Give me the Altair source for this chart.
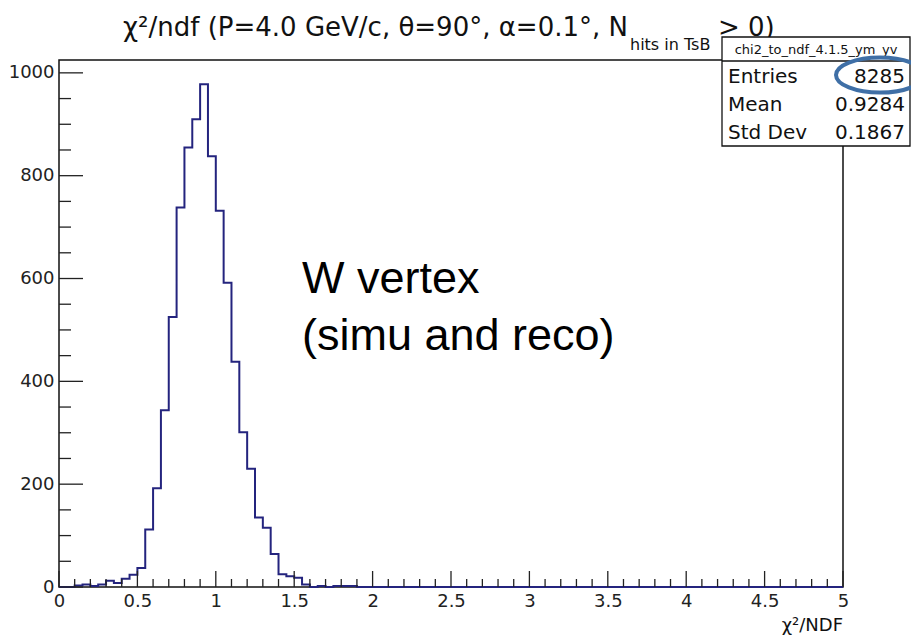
import altair as alt
import pandas as pd

# ---------------- data ----------------
bin_width = 0.05
n_bins = 100
counts_head = [0, 0, 3, 5, 2, 5, 12, 8, 16, 24, 37, 112, 192, 344, 525, 738, 855,
               910, 978, 838, 732, 592, 438, 301, 230, 135, 115, 64, 25, 21, 18,
               5, 0, 2, 0, 2, 2, 2]
counts = counts_head + [0] * (n_bins - len(counts_head))

x_major = [0, 0.5, 1, 1.5, 2, 2.5, 3, 3.5, 4, 4.5, 5]
y_major = [0, 200, 400, 600, 800, 1000]
x_minor = [round(i * 0.1, 2) for i in range(51) if i % 5 != 0]
y_minor = [i * 50 for i in range(21) if i % 4 != 0]

title_main = "χ²/ndf (P=4.0 GeV/c, θ=90°, α=0.1°, N"
title_sub = "hits in TsB"
title_end = "> 0)"
x_title = "χ²/NDF"
stats_name = "chi2_to_ndf_4.1.5_ym_yv"
stats_labels = ["Entries", "Mean", "Std Dev"]
stats_values = ["8285", "0.9284", "0.1867"]
note_lines = ["W vertex", "(simu and reco)"]

# ---------------- geometry ----------------
W, H = 784, 527
X_MAX, Y_MAX = 5, 1025
ROOT_FONT = "DejaVu Sans"
HIST_COLOR = "#24247e"

edges = [i * bin_width for i in range(n_bins)] + [n_bins * bin_width]
hist = pd.DataFrame({"x": edges, "n": counts + [counts[-1]]})

xs = alt.Scale(domain=[0, X_MAX], nice=False, zero=False)
ys = alt.Scale(domain=[0, Y_MAX], nice=False)

x_axis = alt.Axis(values=x_major, format="~g", ticks=False, domain=False,
                  grid=False, title=None, labelFont=ROOT_FONT,
                  labelFontSize=18, labelColor="#222", labelPadding=5,
                  labelFlush=False, labelOverlap=False)
y_axis = alt.Axis(values=y_major, format="d", ticks=False, domain=False,
                  grid=False, title=None, labelFont=ROOT_FONT, labelFontSize=18,
                  labelColor="#222", labelPadding=5, labelFlush=False,
                  labelOverlap=False)

one = pd.DataFrame({"a": [0]})

hist_line = alt.Chart(hist).mark_line(
    interpolate="step-after", color=HIST_COLOR, strokeWidth=2
).encode(
    x=alt.X("x:Q", scale=xs, axis=x_axis, title=None),
    y=alt.Y("n:Q", scale=ys, axis=y_axis, title=None),
)

def xticks(vals, length):
    return alt.Chart(pd.DataFrame({"x": vals})).mark_rule(
        color="#222", strokeWidth=1.3
    ).encode(x=alt.X("x:Q", scale=xs, axis=x_axis, title=None),
             y=alt.value(H), y2=alt.value(H - length))

def yticks(vals, length):
    return alt.Chart(pd.DataFrame({"n": vals})).mark_rule(
        color="#222", strokeWidth=1.3
    ).encode(y=alt.Y("n:Q", scale=ys, axis=y_axis, title=None),
             x=alt.value(0), x2=alt.value(length))

ticks = [xticks(x_major, 16), xticks(x_minor, 8),
         yticks(y_major, 24), yticks(y_minor, 12)]

def txt(s, x, y, size, align="left", font=ROOT_FONT, color="#111"):
    return alt.Chart(one).mark_text(
        text=s, align=align, baseline="alphabetic", font=font,
        fontSize=size, color=color
    ).encode(x=alt.value(x), y=alt.value(y))

# title (positions relative to plot origin at page (59, 60))
title_layers = [
    txt(title_main, 569, -24, 26, align="right"),
    txt(title_sub, 571, -10, 16),
    txt(title_end, 659, -24, 26),
]

# stats box
BX0, BX1, BY0, BY1 = 663, 851, -23, 86
stats_box = alt.Chart(one).mark_rect(
    fill="white", stroke="#111", strokeWidth=1.3
).encode(x=alt.value(BX0), x2=alt.value(BX1), y=alt.value(BY0), y2=alt.value(BY1))
stats_div = alt.Chart(one).mark_rule(color="#111", strokeWidth=1.3).encode(
    x=alt.value(BX0), x2=alt.value(BX1), y=alt.value(1))
stats_layers = [stats_box, stats_div,
                txt(stats_name, (BX0 + BX1) / 2, -6, 13, align="center")]
row_y = [23, 51, 79]
for lab, val, yy in zip(stats_labels, stats_values, row_y):
    stats_layers.append(txt(lab, BX0 + 6, yy, 20))
    stats_layers.append(txt(val, BX1 - 5, yy, 20, align="right"))

ellipse = alt.Chart(one).mark_point(
    shape="M -1 0 A 1 0.4 0 1 0 1 0 A 1 0.4 0 1 0 -1 0 Z",
    size=7744, filled=False, stroke="#3f6fa6", strokeWidth=4, opacity=1
).encode(x=alt.value(821), y=alt.value(15))

note_layers = [
    txt(note_lines[0], 243, 233, 45, font="Liberation Sans", color="#000"),
    txt(note_lines[1], 243, 290, 45, font="Liberation Sans", color="#000"),
]

axis_title = txt(x_title, W, 571, 18, align="right")

chart = alt.layer(
    hist_line, *ticks, *note_layers, axis_title, *title_layers,
    *stats_layers, ellipse
).properties(
    width=W, height=H,
    autosize=alt.AutoSizeParams(type="none"),
    padding={"left": 51, "top": 52, "right": 68, "bottom": 48},
    background="white",
).configure_view(
    stroke="#111", strokeWidth=1.5
)

chart.save("out.html", embed_options={"renderer": "svg", "actions": False})
